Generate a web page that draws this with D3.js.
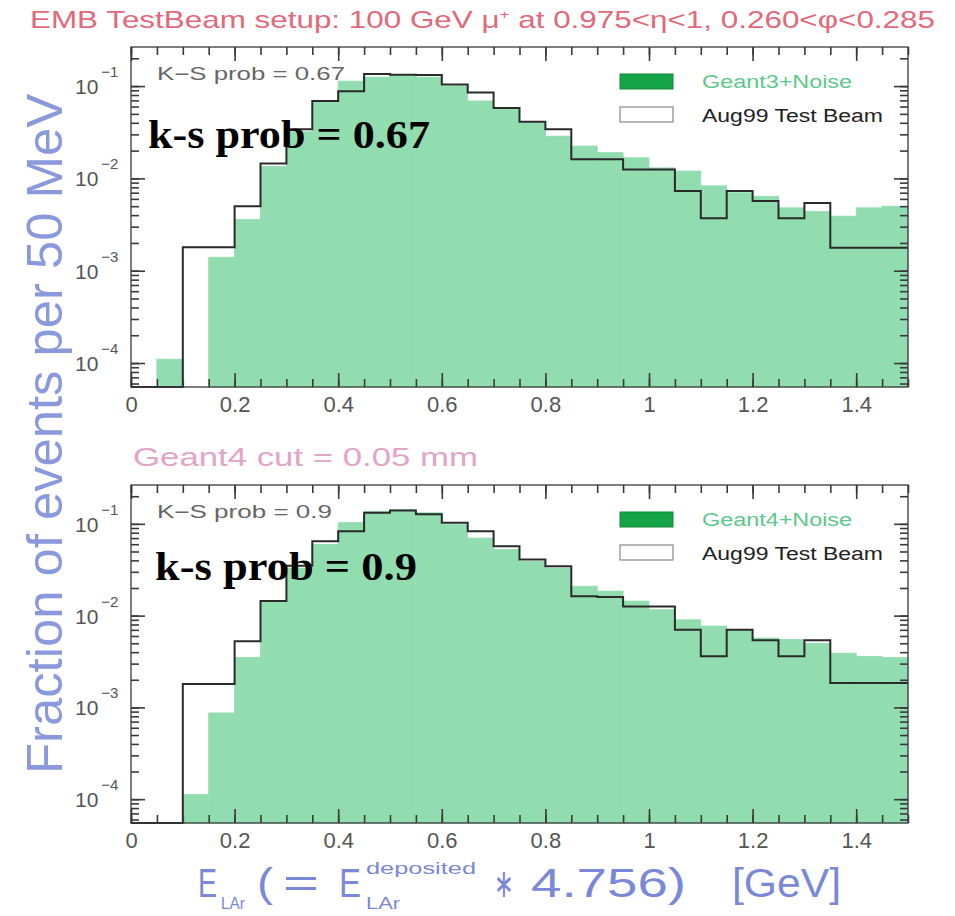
<!DOCTYPE html>
<html>
<head>
<meta charset="utf-8">
<script src="https://cdn.jsdelivr.net/npm/d3@7"></script>
<style>
  body { margin: 0; background: #fff; }
  svg { display: block; }
</style>
</head>
<body>
<svg id="chart"></svg>
<script>
// lower edge of every 50 MeV bin, in GeV
const binLow = [0, 0.05, 0.1, 0.15, 0.2, 0.25, 0.3, 0.35, 0.4, 0.45,
                0.5, 0.55, 0.6, 0.65, 0.7, 0.75, 0.8, 0.85, 0.9, 0.95,
                1.0, 1.05, 1.1, 1.15, 1.2, 1.25, 1.3, 1.35, 1.4, 1.45]
const binWidth = 0.05

// top panel
const geant3Noise = [0, 1.1e-4, 0, 1.4e-3, 3.6e-3, 1.35e-2, 3.2e-2, 6.9e-2, 0.113, 0.125,
                     0.13, 0.125, 0.100, 0.069, 0.056, 0.040, 0.0287, 0.0224, 0.0190, 0.0167,
                     0.0130, 0.0120, 0.0083, 0.0070, 0.0064, 0.0048, 0.0044, 0.0039, 0.0048, 0.0050]
const testBeamTop = [0, 0, 1.8e-3, 1.8e-3, 5.0e-3, 1.45e-2, 3.4e-2, 6.9e-2, 0.088, 0.135,
                     0.133, 0.132, 0.104, 0.085, 0.058, 0.041, 0.034, 0.0161, 0.0161, 0.0125,
                     0.0125, 0.0073, 0.0037, 0.0073, 0.0057, 0.0037, 0.0054, 0.00177, 0.00177, 0.00177]

// bottom panel
const geant4Noise = [0, 0, 1.12e-4, 8.7e-4, 3.5e-3, 1.4e-2, 3.3e-2, 5.96e-2, 0.103, 0.137,
                     0.143, 0.132, 0.098, 0.070, 0.0525, 0.039, 0.033, 0.0209, 0.0185, 0.0144,
                     0.0116, 0.0090, 0.0077, 0.0070, 0.0057, 0.0055, 0.0050, 0.0039, 0.0036, 0.0035]
const testBeamBottom = [0, 0, 1.8e-3, 1.8e-3, 5.25e-3, 1.44e-2, 3.5e-2, 6.48e-2, 0.083, 0.132,
                        0.14, 0.127, 0.103, 0.083, 0.057, 0.041, 0.0346, 0.0163, 0.016, 0.0126,
                        0.0126, 0.0070, 0.0036, 0.0070, 0.0054, 0.0036, 0.0054, 0.00185, 0.00185, 0.00185]

const xTicks = [0, 0.2, 0.4, 0.6, 0.8, 1, 1.2, 1.4]
const xTickLabels = ['0', '0.2', '0.4', '0.6', '0.8', '1', '1.2', '1.4']
const yTicks = [1e-4, 1e-3, 1e-2, 1e-1]
const yTickExps = ['\u22124', '\u22123', '\u22122', '\u22121']

const width = 955
const height = 916
const left = 131
const right = 908
const yMin = 5.5e-5
const yMax = 0.265

const green = '#92ddb0'
const tickColor = '#3a3a3a'
const sans = "'Liberation Sans', Arial, sans-serif"

const svg = d3.select('#chart')
    .attr('width', width)
    .attr('height', height)

svg.append('rect').attr('width', width).attr('height', height).attr('fill', '#fff')

let xScale = d3.scaleLinear()
                .domain([0, 1.5])
                .range([left, right])

// text squeezed/stretched to the width it has in the picture
let fitText = (sel, x, y, size, color, w, s) => sel.append('text')
    .attr('x', x).attr('y', y)
    .attr('font-family', sans)
    .attr('font-size', size)
    .attr('fill', color)
    .attr('textLength', w)
    .attr('lengthAdjust', 'spacingAndGlyphs')
    .text(s)

// inward ticks from a d3 axis, no domain line
let tickAxis = (g, axis, tx, ty) => {
    g.append('g')
        .attr('transform', 'translate(' + tx + ',' + ty + ')')
        .call(axis)
        .call(a => a.select('.domain').remove())
        .call(a => a.selectAll('.tick line').attr('stroke', tickColor).attr('stroke-width', 1.6))
}

let drawPanel = (top, bottom, sim, beam, simName, ks) => {
    let yScale = d3.scaleLog()
                    .domain([yMin, yMax])
                    .range([bottom, top])

    let g = svg.append('g')

    // simulated histogram, filled
    g.selectAll('rect.sim')
        .data(binLow.map((lo, i) => ({lo: lo, v: sim[i]})).filter(d => d.v > 0))
        .enter()
        .append('rect')
        .attr('class', 'sim')
        .attr('x', d => xScale(d.lo))
        .attr('width', d => xScale(d.lo + binWidth) - xScale(d.lo))
        .attr('y', d => yScale(d.v))
        .attr('height', d => bottom - yScale(d.v))
        .attr('fill', green)
        .attr('stroke', green)
        .attr('stroke-width', 0.8)

    // test beam histogram, outline only
    let pts = binLow.map((lo, i) => [lo, beam[i]])
    pts.push([1.5, beam[beam.length - 1]])
    let line = d3.line()
                .x(d => xScale(d[0]))
                .y(d => d[1] > 0 ? yScale(d[1]) : bottom)
                .curve(d3.curveStepAfter)
    g.append('path')
        .attr('d', line(pts))
        .attr('fill', 'none')
        .attr('stroke', '#2a2a2a')
        .attr('stroke-width', 2)

    // ticks on all four sides, pointing in
    let xMinor = binLow.concat([1.5])
    let yMinor = yScale.ticks().filter(v => v >= yMin && v <= yMax)
    tickAxis(g, d3.axisBottom(xScale).tickValues(xMinor).tickSize(-8).tickFormat(''), 0, bottom)
    tickAxis(g, d3.axisTop(xScale).tickValues(xMinor).tickSize(-8).tickFormat(''), 0, top)
    tickAxis(g, d3.axisTop(xScale).tickValues(xTicks).tickSize(-14).tickFormat(''), 0, top)
    tickAxis(g, d3.axisLeft(yScale).tickValues(yMinor).tickSize(-8).tickFormat(''), left, 0)
    tickAxis(g, d3.axisLeft(yScale).tickValues(yTicks).tickSize(-14).tickFormat(''), left, 0)
    tickAxis(g, d3.axisRight(yScale).tickValues(yMinor).tickSize(-8).tickFormat(''), right, 0)
    tickAxis(g, d3.axisRight(yScale).tickValues(yTicks).tickSize(-14).tickFormat(''), right, 0)

    // major x ticks carry the labels
    let xAxis = d3.axisBottom(xScale)
                    .tickValues(xTicks)
                    .tickSize(-14)
                    .tickPadding(9)
                    .tickFormat((d, i) => xTickLabels[i])
    tickAxis(g, xAxis, 0, bottom)
    g.selectAll('.tick text')
        .attr('font-family', sans)
        .attr('font-size', 22)
        .attr('fill', '#555')

    // frame
    g.append('rect')
        .attr('x', left)
        .attr('y', top)
        .attr('width', right - left)
        .attr('height', bottom - top)
        .attr('fill', 'none')
        .attr('stroke', tickColor)
        .attr('stroke-width', 1.3)

    yTicks.forEach((t, i) => {
        let txt = g.append('text')
            .attr('x', 75)
            .attr('y', yScale(t) + 8)
            .attr('font-family', sans)
            .attr('font-size', 21)
            .attr('fill', '#555')
        txt.append('tspan').text('10')
        txt.append('tspan').attr('dy', -17).attr('dx', 3).attr('font-size', 15).text(yTickExps[i])
    })

    // K-S probability, small and big
    fitText(g, 157, top + 33, 18, '#666', ks.smallW, ks.small)

    g.append('text')
        .attr('x', ks.x)
        .attr('y', top + ks.dy)
        .attr('font-family', "'Liberation Serif', 'DejaVu Serif', serif")
        .attr('font-weight', 'bold')
        .attr('font-size', 40)
        .attr('fill', '#000')
        .attr('textLength', ks.w)
        .attr('lengthAdjust', 'spacingAndGlyphs')
        .text(ks.text)

    // legend
    g.append('rect').attr('x', 620).attr('y', top + 27).attr('width', 53).attr('height', 15)
        .attr('fill', '#14a447').attr('stroke', '#0c8a38').attr('stroke-width', 1)
    fitText(g, 702, top + 41, 18, '#5cc88a', 150, simName)
    g.append('rect').attr('x', 620).attr('y', top + 60).attr('width', 53).attr('height', 15)
        .attr('fill', '#fff').attr('stroke', '#888').attr('stroke-width', 1.2)
    fitText(g, 702, top + 75, 18, '#222', 181, 'Aug99 Test Beam')
}

drawPanel(47, 387, geant3Noise, testBeamTop, 'Geant3+Noise',
          {small: 'K\u2212S prob = 0.67', smallW: 188, x: 148, dy: 101, w: 282, text: 'k-s prob = 0.67'})
drawPanel(485, 823, geant4Noise, testBeamBottom, 'Geant4+Noise',
          {small: 'K\u2212S prob = 0.9', smallW: 175, x: 155, dy: 95, w: 262, text: 'k-s prob = 0.9'})

// title
let title = svg.append('text')
    .attr('x', 30)
    .attr('y', 28)
    .attr('font-family', sans)
    .attr('font-size', 24)
    .attr('fill', '#e2687a')
    .attr('textLength', 905)
    .attr('lengthAdjust', 'spacingAndGlyphs')
title.append('tspan').text('EMB TestBeam setup:  100 GeV \u03bc')
title.append('tspan').attr('dy', -9).attr('font-size', 13).text('+')
title.append('tspan').attr('dy', 9).text(' at 0.975<\u03b7<1, 0.260<\u03c6<0.285')

// Geant4 cut note
fitText(svg, 133, 466, 25, '#e2a4c8', 345, 'Geant4 cut = 0.05 mm')

// y axis title
svg.append('text')
    .attr('transform', 'translate(62, 434) rotate(-90)')
    .attr('text-anchor', 'middle')
    .attr('font-family', sans)
    .attr('font-size', 50)
    .attr('fill', '#8a98dc')
    .attr('textLength', 680)
    .attr('lengthAdjust', 'spacingAndGlyphs')
    .text('Fraction of events per 50 MeV')

// x axis title, piece by piece
const xTitleColor = '#7b88d8'
fitText(svg, 198, 897, 40, xTitleColor, 19, 'E')
fitText(svg, 221, 909, 16, xTitleColor, 24, 'LAr')
fitText(svg, 257, 897, 40, xTitleColor, 16, '(')
fitText(svg, 283, 897, 40, xTitleColor, 36, '=')
fitText(svg, 339, 897, 40, xTitleColor, 22, 'E')
fitText(svg, 366, 874, 17, xTitleColor, 110, 'deposited')
fitText(svg, 366, 909, 16, xTitleColor, 34, 'LAr')
fitText(svg, 494, 897, 40, xTitleColor, 20, '\u2217')
fitText(svg, 531, 897, 40, xTitleColor, 155, '4.756)')
fitText(svg, 732, 897, 40, xTitleColor, 109, '[GeV]')
</script>
</body>
</html>
